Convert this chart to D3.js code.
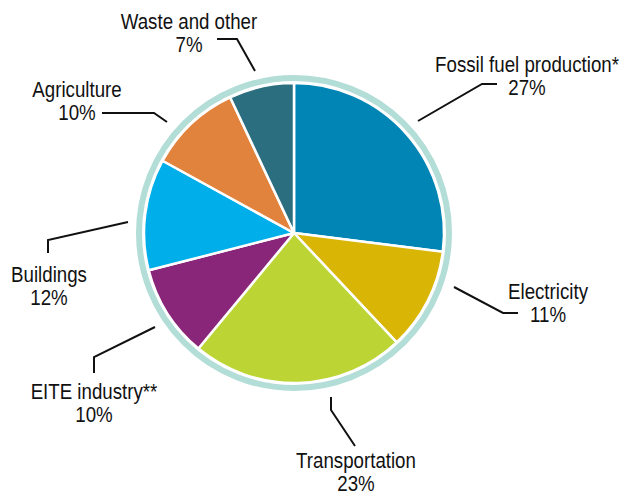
<!DOCTYPE html>
<html>
<head>
<meta charset="utf-8">
<script src="https://cdn.jsdelivr.net/npm/d3@7"></script>
<style>
  body { margin: 0; background: #fff; }
  text { font-family: "Liberation Sans", Arial, sans-serif; font-size: 22px; fill: #111; }
</style>
</head>
<body>
<script>
// sector shares, clockwise from 12 o'clock
var sectors = ["Fossil fuel production*", "Electricity", "Transportation", "EITE industry**", "Buildings", "Agriculture", "Waste and other"];
var shares = [27, 11, 23, 10, 12, 10, 7];
var colors = ["#0085b4", "#d9b506", "#bcd535", "#892679", "#00aeea", "#e1833d", "#2b6e80"];

// label anchor (centre x, first baseline) and leader polyline for each sector
var labelPos = [[527, 72], [548, 299], [356, 468], [94, 399], [49, 282], [77, 97], [189, 29]];
var leaderPts = [
  [[418, 121], [482, 84], [497, 84]],
  [[454, 287], [503, 313], [518, 313]],
  [[331, 397], [331, 410], [355, 446]],
  [[155, 327], [94, 357], [94, 373]],
  [[128, 222], [48, 240], [48, 253]],
  [[167, 122], [154, 113], [102, 113]],
  [[255, 71], [237, 39], [217, 39]]
];

var width = 623, height = 496;
var cx = 294, cy = 233, r = 150;
var squeeze = 0.85; // no condensed face installed, so narrow the regular one

var svg = d3.select("body").append("svg")
    .attr("width", width)
    .attr("height", height);

var g = svg.append("g").attr("transform", "translate(" + cx + "," + cy + ")");

// outer ring
g.append("circle")
    .attr("r", 155)
    .attr("fill", "none")
    .attr("stroke", "#b3ddd7")
    .attr("stroke-width", 6);

var pie = d3.pie().sort(null).value(function(d) { return d; });
var arc = d3.arc().innerRadius(0).outerRadius(r);

g.selectAll("path")
    .data(pie(shares))
    .enter().append("path")
      .attr("d", arc)
      .attr("fill", function(d, i) { return colors[i]; })
      .attr("stroke", "#fff")
      .attr("stroke-width", 2.5)
      .attr("stroke-linejoin", "round");

var line = d3.line();
svg.append("g").selectAll("path")
    .data(leaderPts)
    .enter().append("path")
      .attr("d", line)
      .attr("fill", "none")
      .attr("stroke", "#111")
      .attr("stroke-width", 2);

var labels = svg.append("g").selectAll("text")
    .data(sectors)
    .enter().append("text")
      .attr("text-anchor", "middle")
      .attr("transform", function(d, i) {
        return "translate(" + labelPos[i][0] + "," + labelPos[i][1] + ") scale(" + squeeze + ",1)";
      });

labels.append("tspan").attr("x", 0).text(function(d) { return d; });
labels.append("tspan")
    .attr("x", 0)
    .attr("dy", 23)
    .text(function(d, i) { return shares[i] + "%"; });
</script>
</body>
</html>
